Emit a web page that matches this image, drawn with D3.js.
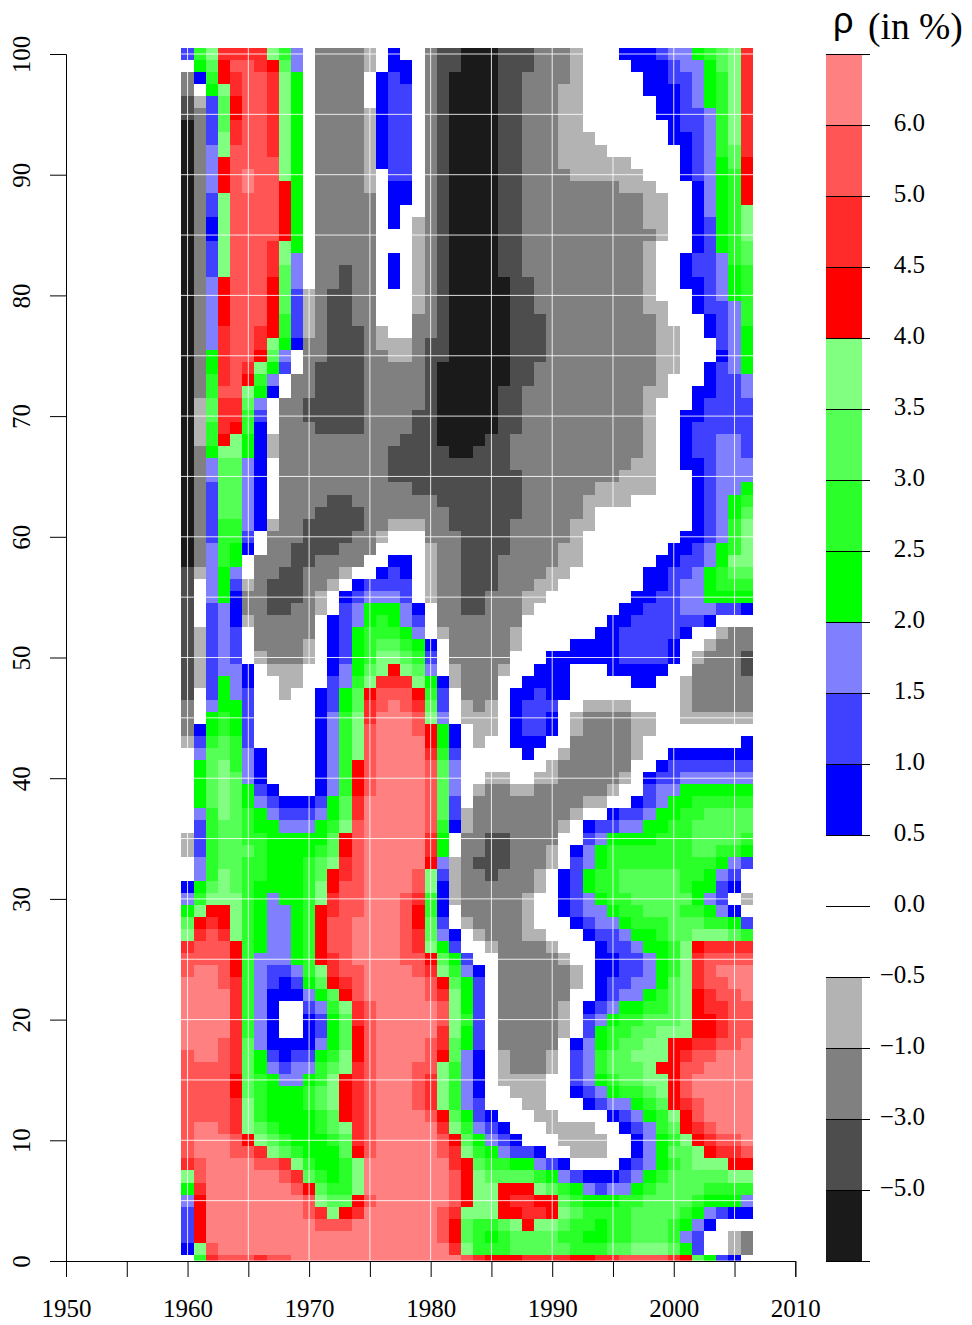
<!DOCTYPE html>
<html>
<head>
<meta charset="utf-8">
<script src="https://cdn.jsdelivr.net/npm/d3@7"></script>
<style>
  html, body { margin: 0; padding: 0; background: #fff; }
  svg { display: block; }
  text { font-family: "Liberation Serif", serif; fill: #000; }
</style>
</head>
<body>
<div id="chart"></div>
<script>
// years along x, ages along y (rows below run from age 100 down to age 0)
const years = d3.range(1960, 2007);
const ages = d3.range(100, -1, -1);

// every letter is one colour class of the key, one letter per year
const levelKeys = ["a","b","c","d","v","w","e","f","g","h","i","j","k","l","m","n","o"];
const levelColors = ["#1a1a1a","#4d4d4d","#808080","#b3b3b3","#ffffff","#ffffff","#0000ff","#4040ff","#8080ff",
                     "#00ff00","#2aff2a","#55ff55","#80ff80","#ff0000","#ff2a2a","#ff5555","#ff8080"];
const levelLabels = ["", "\u22125.0", "\u22123.0", "\u22121.0", "\u22120.5", "0.0", "0.5", "1.0", "1.5", "2.0",
                     "2.5", "3.0", "3.5", "4.0", "4.5", "5.0", "6.0", ""];

const rows = [
"fikmmmmkigwccccdwewwcbbaaabbbcccdwwweeefgghijkm",
"whjlnnmljgwccccdweewcbbaaabbbcccdwwwweeefgghjkm",
"ceilmnnmkhwccccwefewcbaaaabbccccdwwwwweeffghikm",
"cwhkmnnmkhwccccweffwcbaaaabbcccddwwwwweeefghikm",
"bdfjlnnmkhwccccweffwcbaaaabbcccddwwwwwweefghikm",
"bcfjlnnmkhwccccdeffwcbaaaabbcccddwwwwwweeffgikm",
"acfjmnnmkhwccccdeffwcbaaaabbcccddwwwwwwweffgikm",
"acfkmnnmkhwccccdeffwcbaaaabbcccdddwwwwwweefgikm",
"acgknnnmkhwccccdeffwcbaaaabbcccddddwwwwwwefgijm",
"acglnnnnkhwccccdeffwcbaaaabbcccddddddwwwwefghjl",
"acglnonnkhwccccdwffwcbaaaabbccccddddddwwwefghil",
"acglnonnlhwccccdweewcbaaaabbccccccccdddwwweghil",
"acfknnnnlhwcccccweewcbaaaabbccccccccccddwweghil",
"acfknnnnlhwcccccwewwcbaaaabbccccccccccddwweghik",
"aceknnnnlhwcccccwewdcbaaaabbccccccccccddwwefhik",
"aceknnnnlhwcccccwwwdcbaaaabbcccccccccccdwwefhik",
"acfknnnmkhwcccccwwwdcbaaaabbccccccccccdwwwefhij",
"acfknnnmkgwcccccwewdcbaaaabbccccccccccdwweffgij",
"acfknnnmjgwccbccwewdcbaaaabbccccccccccdwweffghi",
"acglnnnljgwccbccwewdcbaaaaabbcccccccccdwweefghi",
"acglnnnljfdcbbccwwwdcbaaaaabbcccccccccdwwwefghi",
"acglnnnljfdcbbccwwwdcbaaaaabbcccccccccddwweffgi",
"acglnnnlifdcbbccwwwccbaaaaabbbcccccccccdwwwefgi",
"acgmnnmlifdcbbbcdwwccbaaaaabbbcccccccccddwwefgh",
"acgmnnmkheccbbbcdddcbbaaaaabbbcccccccccddwwwfgh",
"achmnnljgwccbbbccddcbbaaaaabbbcccccccccddwwwegh",
"achmnmkhfwcbbbbcccccbaaaaaabbccccccccccddwwefgh",
"acimnligwccbbbbcccccbaaaaaabbccccccccccdwwweffg",
"acinnkhewccbbbbcccccbaaaaabbccccccccccddwweeffg",
"adjmmjgwccbbbbbcccccbaaaaabbccccccccccdwwweffff",
"adjmmifwccbbbbbccccbbaaaaabbccccccccccdwweeffff",
"adimliewcccbbbbccccbbaaaaabbccccccccccdwwefffff",
"adilkhedccccccccccbbbaaaabbcccccccccccdwweffggf",
"achkkhedcccccccccbbbbbaabbbcccccccccccdwweffggf",
"acgjjgewcccccccccbbbbbbbbbbccccccccccddwweefggg",
"acgjjgewcccccccccbbbbbbbbbbbccccccccdddwwwefggg",
"acfjjgewcccccccccccbbbbbbbbbccccccdddddwwwefggh",
"acfjjgewccccbbcccccccbbbbbbbcccccddddwwwwwefghi",
"acfjjgewcccbbbbcccccccbbbbbbcccccdwwwwwwwwefghj",
"acfiigedccbbbbbccdddccbbbbbcccccddwwwwwwwwefgik",
"acfiifwcccbbbbccdwwwcccbbbbcccccdwwwwwwwweefgik",
"acgihewccbbbbcccwwwwdccbbbbccccddwwwwwwweefghik",
"acgihwcccbbccccwweewdccbbbcccccddwwwwwweeffghkk",
"bdghgwccbbcccdwwefewdccbbbccccddwwwwwweeffghijj",
"bwghfdcbbbccdweffffwdccbbbcccddwwwwwwweefgghiii",
"bwgheccbbbcdwefgggfwdccbbcccddwwwwwwweeffgghhhh",
"bwfgeccbbccdwfghhhgewccbbcccdwwwwwwweefffgggffe",
"bwfgedcccccwefghihgfwcccccccwwwwwwweeffffffewww",
"bdfgfwcccccwefhiiihgwdcccccdwwwwwweefffffewwdcc",
"bdfgfwccccdwefhijjihewcccccdwwwweeeeffffewwdccc",
"bdfgfwdcccdwefhikkjifwcccccwwweeeeeeffffewdcccb",
"bdfggewdddwweghjklkjgwdcccdwweeewwweeeeewwccccb",
"bdfhgewwddwwfgikmmmkhedcccwweeeewwwwweewwdccccc",
"bwfhgfwwdwwefhjlnnnlifwcccweefeewwwwwwwwwdccccc",
"cwghhfwwwwwefhjmnonmjfwdcdwefffwwddddwwwwdccccc",
"cwhihfwwwwwegikmooonkgwdddweffewdccccddwwdddddd",
"cehihfwwwwwegiknooonlhewddweffewdccccddwwwwwwww",
"dfijifwwwwwegiknoooolhewdwweeewwcccccdwwwwwwwwe",
"wgjjigewwwwegiknoooomifwwwwwewwdcccccdwweeeeeee",
"whjkigewwwwegilnoooonjgwwwwwwwdccccccwwefffffff",
"whjkjgewwwwegilnoooonjgwwddwwddcccccdweffgggggg",
"whjkjhfewwwegilnoooonjgwdccddccccccdwwfgghhhhhh",
"whjkjhgfeeefhjmooooonjfwcccccccccddwwefghhiiiii",
"wgikjihgfffghjmooooonjfdccccccccdwweffghhiijjjj",
"wfijjihhggghiknooooon" + "iedcccccccdweffgghhiijjjjj",
"dfijjiihhhhhjlnooooomhwccbbccccwwfghhhhiiijjjji",
"dfijjjihhhhijlnooooomhwccbbcccdweghiiiiiiijjiih",
"wgijjiihhhijkmnooooolgdcbbbcccdwfghiiiiiiiiihgf",
"wgikjiihhhijlmnoooonkfdccbcccdwefhiijjjjjiihgfw",
"ehjkjihhhhiklnnoooonkedccccccdwefhiijjjjjihhfew",
"gikkkihghhikmnnooonmiedcccccdwwefghiijjjjjhgfwd",
"hkllkihgghilmnnooonliewcccccdwwefgghiijjjiihgew",
"jlmlkihgghilnnoooonljfwdccccdwwwefgghiiijjjiihf",
"kmnmkihgghilnnoooonmjgewdcccddwwweffghhijjkkkji",
"mnnnlihgghilnnoooonmkhfwwdccccdwwweffghhiklmmmm",
"nnnnliggghilmnoooonnljhfwwcccccdwweeffghikmnnnn",
"noonligffgikmnnoooonmkigewccccccdweeffghikmnooo",
"ooonmigfefhjlmnooooonljhfwccccccdweffgghjkmnnoo",
"oooomigeeeghjlnooooonmkhfwccccccwwefgghijklmnno",
"oooomigewwfgikmnooooonkhfwcccccdwefghhiijklmmnn",
"oooomigewwefhjmnooooonkifwcccccdwfghiijjjkllmnn",
"oooomigewwefhjlnooooomkhfwcccccdwfhiijjkkkllmnn",
"ooonmjgeeeeghjlnoooonmjhfwcccccweghijjkkllmmnno",
"noonmjhfeffhiklnoooonljgewdcccdwfgijjkkklmnnooo",
"nnnnmjhgfggijkmnooonnkigewdcccdwfgijjjkllnnoooo",
"nnnnljihgghiklmnooonmkigewddddwwfghijjkklnooooo",
"nnnnljihhhijklmnooonmkigewwdddwwefghiijklnooooo",
"nnnnmkihhhijklmnooonmkigfwwwddwwwefgghijlmnoooo",
"nnnnmkihhhhijlmnoooonljhfewwwddwwwwefghiklnoooo",
"noonmkjihhhijkmnooooomkigfewwwddddwwefgijlmnooo",
"nooonlkjihhhijmnooooonljhgfewwwddddwweghiklmnno",
"nooonnmkjihhhjlnooooonmkihgffewwdddwweghjjklmmn",
"mnoooonnmk" + "ihhikooooo" + "oomljiihhg" + "fewwwwefgh" + "ijkkkll",
"knoooooonm" + "jihikooooo" + "oonlkjjjji" + "hgfeeefghi" + "jjjjjkk",
"hmooooooon" + "ljiikooooo" + "oonlkklllk" + "jihgfgghij" + "jjjiiii",
"gloooooooo" + "nkjjlnoooo" + "oonlkklmml" + "ljihhhiijj" + "jjihhhg",
"floooooooo" + "nmklmooooo" + "onmkkkllmm" + "lkjiiiijjj" + "jihgfee",
"floooooooo" + "onnnoooooo" + "onljiijklk" + "kjiihiijjj" + "ihgewww",
"floooooooo" + "oooooooooo" + "onljihijjj" + "jiihhiijjj" + "igfwwdc",
"eknooooooo" + "oooooooooo" + "oomkiiijjj" + "jjiiijjkkk" + "jhfwwdc",
"wimnnnmnno" + "oooooooooo" + "ooonmlllmm" + "mmllmmnnnn" + "mljhfew"
];

const W = 972, H = 1325;

const svg = d3.select("#chart").append("svg")
    .attr("width", W)
    .attr("height", H);

const x = d3.scaleLinear().domain([1950, 2010]).range([66, 795.3]);
const y = d3.scaleLinear().domain([0, 100]).range([1261, 54]);
const colour = d3.scaleOrdinal().domain(levelKeys).range(levelColors);

const cw = x(1) - x(0);
const ch = y(0) - y(1);

svg.append("clipPath").attr("id", "plotClip")
  .append("rect")
    .attr("x", x(1950))
    .attr("y", 0)
    .attr("width", x(2010) - x(1950))
    .attr("height", y(0));

const plot = svg.append("g").attr("clip-path", "url(#plotClip)");

// flatten to one record per cell
const cells = [];
rows.forEach(function(row, r) {
    years.forEach(function(year, c) {
        cells.push({year: year, age: ages[r], level: row[c]});
    });
});

plot.selectAll("rect.cell")
    .data(cells)
    .enter()
    .append("rect")
    .attr("class", "cell")
    .attr("x", function(d) { return x(d.year) - cw / 2; })
    .attr("y", function(d) { return y(d.age) - ch / 2; })
    .attr("width", cw)
    .attr("height", ch)
    .attr("fill", function(d) { return colour(d.level); })
    .attr("shape-rendering", "crispEdges");

// white grid every 5 years and 5 years of age
const gridYears = d3.range(1950, 2011, 5);
const gridAges = d3.range(0, 101, 5);

plot.selectAll("line.gx")
    .data(gridYears)
    .enter()
    .append("line")
    .attr("x1", function(d) { return x(d); })
    .attr("x2", function(d) { return x(d); })
    .attr("y1", y(100) - 8)
    .attr("y2", y(0))
    .attr("stroke", "#fff")
    .attr("stroke-opacity", 0.85);

plot.selectAll("line.gy")
    .data(gridAges)
    .enter()
    .append("line")
    .attr("x1", x(1950))
    .attr("x2", x(2010))
    .attr("y1", function(d) { return y(d); })
    .attr("y2", function(d) { return y(d); })
    .attr("stroke", "#fff")
    .attr("stroke-opacity", 0.85);

// bottom axis, ticks every 5 and labels every 10
const xAxis = svg.append("g")
    .attr("transform", `translate(0,${y(0)})`)
    .call(d3.axisBottom(x)
        .tickValues(gridYears)
        .tickSize(16)
        .tickPadding(22)
        .tickFormat(function(d) { return d % 10 === 0 ? d : ""; }));

// left axis
const yAxis = svg.append("g")
    .attr("transform", `translate(${x(1950)},0)`)
    .call(d3.axisLeft(y)
        .tickValues(d3.range(0, 101, 10))
        .tickSize(16)
        .tickFormat(function(d) { return d; }));

yAxis.selectAll("text")
    .attr("text-anchor", "middle")
    .attr("x", 0)
    .attr("dy", 0)
    .attr("transform", "translate(-36,0)rotate(-90)");

// colour key
const key = d3.scaleLinear().domain([0, 17]).range([1261, 54]);

svg.selectAll("rect.key")
    .data(levelColors)
    .enter()
    .append("rect")
    .attr("class", "key")
    .attr("x", 826)
    .attr("width", 36)
    .attr("y", function(d, i) { return key(i + 1); })
    .attr("height", key(0) - key(1))
    .attr("fill", function(d) { return d; })
    .attr("shape-rendering", "crispEdges");

const keyAxis = svg.append("g")
    .attr("transform", "translate(826,0)")
    .call(d3.axisRight(key)
        .tickValues(d3.range(0, 18))
        .tickSize(44)
        .tickFormat(function(d) { return levelLabels[d]; }));

keyAxis.select(".domain").remove();
keyAxis.selectAll("text")
    .attr("text-anchor", "end")
    .attr("x", 99)
    .attr("dy", "0.22em");

[xAxis, yAxis, keyAxis].forEach(function(a) {
    a.selectAll("text").style("font-size", "25px").style("font-family", '"Liberation Serif", serif').attr("fill", "#000");
    a.selectAll("line").attr("stroke", "#000");
    a.selectAll(".domain").attr("stroke", "#000");
});

svg.append("text")
    .attr("x", 833)
    .attr("y", 33)
    .style("font-size", "36px")
    .style("font-family", '"Liberation Sans", sans-serif')
    .text("\u03c1");

svg.append("text")
    .attr("x", 868)
    .attr("y", 39)
    .style("font-size", "37.5px")
    .text("(in %)");
</script>
</body>
</html>
